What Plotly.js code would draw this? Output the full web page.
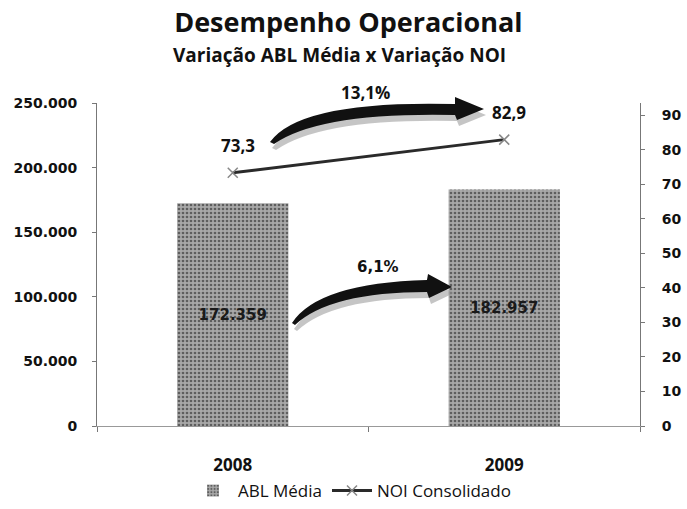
<!DOCTYPE html>
<html>
<head>
<meta charset="utf-8">
<script src="https://cdn.plot.ly/plotly-3.0.1.min.js"></script>
<style>
  html, body { margin: 0; padding: 0; background: #fff; }
  #chart { width: 687px; height: 509px; }
</style>
</head>
<body>
<div id="chart"></div>
<script>
// ---- data ----
const categories = ['2008', '2009'];
const ablMedia = [172359, 182957];          // ABL Média (bars, left axis)
const noiConsolidado = [73.3, 82.9];        // NOI Consolidado (line, right axis)
const leftTickVals = [0, 50000, 100000, 150000, 200000, 250000];
const rightTickVals = [0, 10, 20, 30, 40, 50, 60, 70, 80, 90];
const seriesNames = ['ABL Média', 'NOI Consolidado'];
const titleText = 'Desempenho Operacional';
const subtitleText = 'Variação ABL Média x Variação NOI';

// ---- helpers ----
const idx = categories.map((c, i) => i);
const fmtComma = (v, d) => v.toFixed(d).replace('.', ',');
const growth = arr => fmtComma((arr[arr.length - 1] / arr[0] - 1) * 100, 1) + '%';

// plot-area frame (pixels) used to place decorative arrows in paper coords
const PL = 97, PR = 640, PT = 103, PB = 426;
const pt = (px, py) => ((px - PL) / (PR - PL)).toFixed(4) + ',' + ((PB - py) / (PB - PT)).toFixed(4);
function arrowPath(p, dx, dy) {
  dx = dx || 0; dy = dy || 0;
  const s = (a, b) => pt(a + dx, b + dy);
  return 'M' + s(p.tail[0], p.tail[1]) +
    ' Q' + s(p.upC[0], p.upC[1]) + ' ' + s(p.upE[0], p.upE[1]) +
    ' L' + s(p.headTop[0], p.headTop[1]) +
    ' L' + s(p.tip[0], p.tip[1]) +
    ' L' + s(p.headBot[0], p.headBot[1]) +
    ' L' + s(p.lowS[0], p.lowS[1]) +
    ' Q' + s(p.lowC[0], p.lowC[1]) + ' ' + s(p.tail2[0], p.tail2[1]) + ' Z';
}
const arrowTop = { tail: [270, 142], upC: [300, 100], upE: [455, 104], headTop: [455, 97], tip: [484, 109],
                   headBot: [457, 120], lowS: [455, 115], lowC: [320, 112], tail2: [274, 144] };
const arrowBot = { tail: [292, 323], upC: [318, 283], upE: [427, 280], headTop: [428, 274], tip: [452, 287],
                   headBot: [429, 298], lowS: [427, 292], lowC: [330, 292], tail2: [295, 325] };

const shapes = [];
[arrowTop, arrowBot].forEach(a => {
  shapes.push({ type: 'path', xref: 'paper', yref: 'paper', path: arrowPath(a, 2, 6),
    fillcolor: 'rgba(150,150,150,0.55)', line: { width: 0 }, layer: 'above' });
  shapes.push({ type: 'path', xref: 'paper', yref: 'paper', path: arrowPath(a),
    fillcolor: '#111', line: { width: 0 }, layer: 'above' });
});

const traces = [
  {
    type: 'bar', name: seriesNames[0], x: idx, y: ablMedia, yaxis: 'y',
    width: 0.41,
    marker: { color: '#a0a0a0', line: { width: 0 },
              pattern: { shape: '.', fgcolor: '#5e5e5e', bgcolor: '#a8a8a8', size: 4, solidity: 0.35 } },
    texttemplate: '%{y:,}', textposition: 'inside', insidetextanchor: 'middle', textangle: 0,
    textfont: { family: 'DejaVu Sans', size: 15, color: '#1a1a1a', weight: 'bold' },
    hoverinfo: 'skip'
  },
  {
    type: 'scatter', mode: 'lines+markers', name: seriesNames[1], x: idx, y: noiConsolidado, yaxis: 'y2',
    line: { color: '#2a2a2a', width: 3 },
    marker: { symbol: 'x-thin', size: 10, color: '#888', line: { width: 1.5, color: '#888' } },
    hoverinfo: 'skip'
  }
];

const annotations = [
  { xref: 'paper', yref: 'paper', x: 0.4475, y: (PB - 55) / (PB - PT), xanchor: 'center', yanchor: 'middle', showarrow: false,
    text: '<b>' + subtitleText + '</b>', font: { family: 'Open Sans', size: 19, color: '#111' } },
  { xref: 'paper', yref: 'paper', x: (365 - PL) / (PR - PL), y: (PB - 92) / (PB - PT), xanchor: 'center', yanchor: 'middle',
    showarrow: false, text: '<b>' + growth(noiConsolidado) + '</b>', font: { family: 'Open Sans', size: 17, color: '#111' } },
  { xref: 'paper', yref: 'paper', x: (378 - PL) / (PR - PL), y: (PB - 267) / (PB - PT), xanchor: 'center', yanchor: 'middle',
    showarrow: false, text: '<b>' + growth(ablMedia) + '</b>', font: { family: 'DejaVu Sans', size: 15, color: '#111' } }
];
noiConsolidado.forEach((v, i) => {
  annotations.push({ xref: 'x', yref: 'y2', x: idx[i], y: v, yshift: 27, xshift: 5, xanchor: 'center', yanchor: 'middle',
    showarrow: false, text: '<b>' + fmtComma(v, 1) + '</b>', font: { family: 'Open Sans', size: 17, color: '#111' } });
});

const layout = {
  width: 687, height: 509,
  margin: { l: PL, r: 687 - PR, t: PT, b: 509 - PB, pad: 0, autoexpand: false },
  paper_bgcolor: '#fff', plot_bgcolor: '#fff',
  separators: ',.',
  showlegend: true,
  hovermode: false,
  title: { text: '<b>' + titleText + '</b>', x: 0.507, xanchor: 'center', y: 1 - 23 / 509, yanchor: 'middle',
           font: { family: 'Open Sans', size: 27, color: '#111' } },
  xaxis: {
    range: [-0.5, 1.5], tickvals: idx, ticktext: categories, ticks: '', showgrid: false, zeroline: false,
    showline: true, linecolor: '#999', linewidth: 1, ticklabelstandoff: 24, automargin: false,
    tickfont: { family: 'Open Sans', size: 17, color: '#111', weight: 'bold' },
    minor: { tickvals: [-0.5, 0.5, 1.5], ticks: 'outside', ticklen: 5, tickcolor: '#777', tickwidth: 1, showgrid: false }
  },
  yaxis: {
    range: [0, 250000], tickvals: leftTickVals, tickformat: ',', showgrid: false, zeroline: false,
    showline: true, linecolor: '#777', linewidth: 1, ticks: 'outside', ticklen: 4, tickcolor: '#777',
    ticklabelstandoff: 12, automargin: false,
    tickfont: { family: 'DejaVu Sans', size: 14, color: '#111', weight: 'bold' }
  },
  yaxis2: {
    overlaying: 'y', side: 'right', range: [0, 93.5], tickvals: rightTickVals, showgrid: false, zeroline: false,
    showline: true, linecolor: '#777', linewidth: 1, ticks: 'outside', ticklen: 4, tickcolor: '#777',
    ticklabelstandoff: 14, automargin: false,
    tickfont: { family: 'DejaVu Sans', size: 14, color: '#111', weight: 'bold' }
  },
  legend: {
    orientation: 'h', x: (352 - PL) / (PR - PL), xanchor: 'center', y: (PB - 491) / (PB - PT), yanchor: 'middle',
    font: { family: 'Open Sans', size: 17, color: '#111' }, itemwidth: 40, bgcolor: 'rgba(0,0,0,0)'
  },
  shapes: shapes,
  annotations: annotations
};

Plotly.newPlot('chart', traces, layout, { displayModeBar: false, staticPlot: true });
</script>
</body>
</html>
